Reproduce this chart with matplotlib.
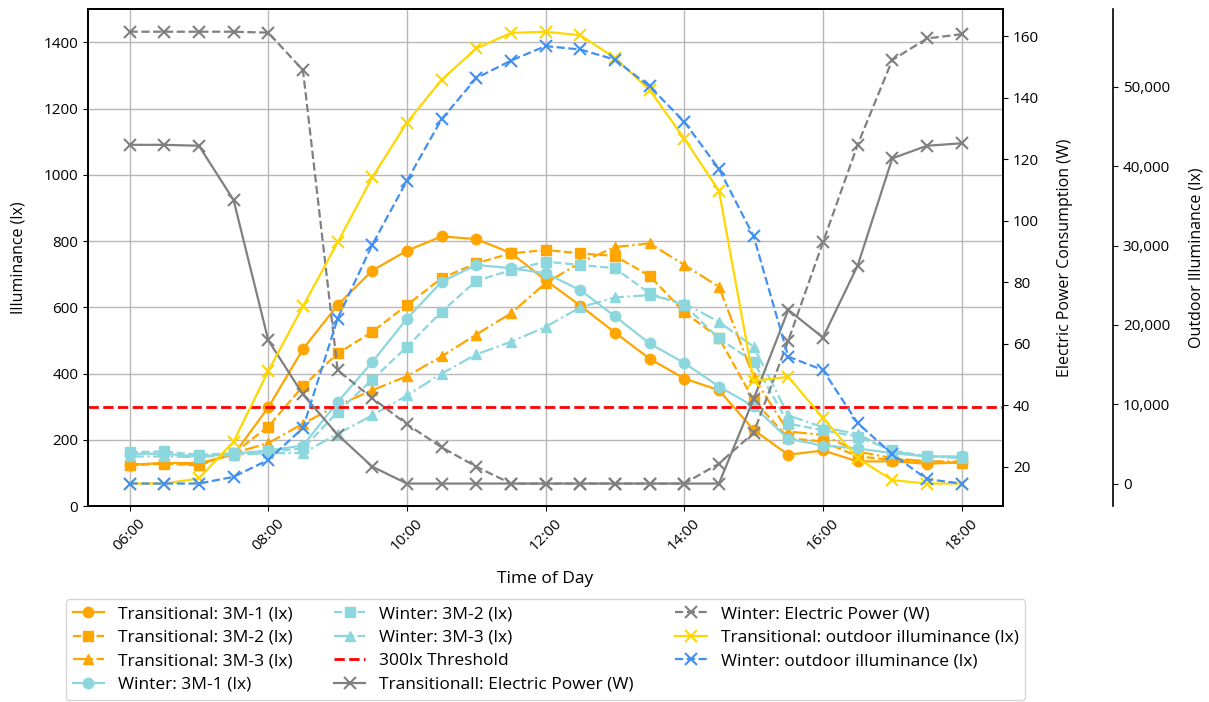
import matplotlib
matplotlib.use("Agg")
import matplotlib.pyplot as plt
import matplotlib.dates as mdates
import matplotlib.ticker as mticker
import pandas as pd

plt.rcParams["font.family"] = ["Open Sans", "DejaVu Sans"]
plt.rcParams["font.size"] = 11

# Half-hourly samples, 06:00 - 18:00
TIME_LABELS = ["06:00", "06:30", "07:00", "07:30", "08:00", "08:30", "09:00",
               "09:30", "10:00", "10:30", "11:00", "11:30", "12:00", "12:30",
               "13:00", "13:30", "14:00", "14:30", "15:00", "15:30", "16:00",
               "16:30", "17:00", "17:30", "18:00"]

# Indoor illuminance (lx)
trans_3m1 = [125, 130, 130, 155, 298, 474, 607, 711, 771, 814, 806, 764, 682,
             605, 524, 445, 385, 350, 230, 155, 168, 135, 135, 128, 132]
trans_3m2 = [123, 128, 123, 160, 240, 362, 461, 526, 607, 688, 733, 763, 773,
             763, 755, 695, 585, 508, 320, 205, 195, 150, 140, 135, 130]
trans_3m3 = [125, 130, 125, 160, 190, 249, 304, 350, 392, 452, 518, 582, 673,
             735, 782, 793, 728, 662, 389, 225, 215, 165, 145, 135, 135]
winter_3m1 = [158, 158, 150, 158, 168, 183, 314, 435, 566, 677, 728, 718, 703,
              652, 573, 491, 432, 361, 301, 203, 183, 174, 160, 150, 150]
winter_3m2 = [163, 165, 155, 160, 165, 174, 284, 382, 481, 587, 680, 712, 738,
              728, 718, 642, 607, 506, 436, 249, 229, 210, 168, 150, 148]
winter_3m3 = [150, 150, 148, 155, 160, 160, 218, 274, 334, 400, 458, 496, 541,
              600, 630, 637, 612, 556, 481, 274, 238, 218, 165, 150, 145]
THRESHOLD = 300

# Electric power consumption (W)
trans_power = [124.7, 124.7, 124.4, 106.7, 61.1, 43.5, 30.4, 20.0, 14.5, 14.5,
               14.5, 14.5, 14.5, 14.5, 14.5, 14.5, 14.5, 14.5, 42.0, 71.0,
               62.0, 85.4, 120.3, 124.4, 125.2]
winter_power = [161.5, 161.5, 161.5, 161.5, 161.2, 149.0, 51.4, 42.3, 33.8,
                26.3, 20.0, 14.5, 14.5, 14.5, 14.5, 14.5, 14.5, 21.0, 31.0,
                61.0, 93.0, 124.7, 152.3, 159.3, 160.7]

# Outdoor illuminance (lx)
trans_outdoor = [0, 0, 640, 5300, 14200, 22350, 30400, 38600, 45500, 50900,
                 54840, 56800, 56950, 56500, 53650, 49620, 43470, 36900, 12940,
                 13450, 8270, 3180, 430, 0, 0]
winter_outdoor = [0, 0, 0, 850, 2980, 7000, 20790, 30110, 38170, 45930, 51100,
                  53310, 55140, 54710, 53430, 50050, 45600, 39660, 31170, 15990,
                  14300, 7630, 3700, 560, 0]

ORANGE = "#FFA500"
CYAN = "#8CD7DE"
GRAY = "#808080"
GOLD = "#FFD700"
BLUE = "#4290F0"

times = pd.to_datetime(TIME_LABELS, format="%H:%M")

fig = plt.figure(figsize=(12.09, 7.02), dpi=100)
ax = fig.add_axes([0.0728, 0.279, 0.757, 0.708])
ax2 = ax.twinx()
ax3 = ax.twinx()
ax3.spines["right"].set_position(("axes", 1.12))

lw = 1.6
ms = 7.5
handles = []
handles += ax.plot(times, trans_3m1, color=ORANGE, ls="-", marker="o", lw=lw,
                   ms=ms, label="Transitional: 3M-1 (lx)")
handles += ax.plot(times, trans_3m2, color=ORANGE, ls="--", marker="s", lw=lw,
                   ms=ms, label="Transitional: 3M-2 (lx)")
handles += ax.plot(times, trans_3m3, color=ORANGE, ls="-.", marker="^", lw=lw,
                   ms=ms, label="Transitional: 3M-3 (lx)")
handles += ax.plot(times, winter_3m1, color=CYAN, ls="-", marker="o", lw=lw,
                   ms=ms, label="Winter: 3M-1 (lx)")
handles += ax.plot(times, winter_3m2, color=CYAN, ls="--", marker="s", lw=lw,
                   ms=ms, label="Winter: 3M-2 (lx)")
handles += ax.plot(times, winter_3m3, color=CYAN, ls="-.", marker="^", lw=lw,
                   ms=ms, label="Winter: 3M-3 (lx)")
handles.append(ax.axhline(THRESHOLD, color="red", ls="--", lw=2,
                          label="300lx Threshold"))

handles += ax2.plot(times, trans_power, color=GRAY, ls="-", marker="x", lw=lw,
                    ms=9, mew=1.5, label="Transitionall: Electric Power (W)")
handles += ax2.plot(times, winter_power, color=GRAY, ls="--", marker="x", lw=lw,
                    ms=9, mew=1.5, label="Winter: Electric Power (W)")

handles += ax3.plot(times, trans_outdoor, color=GOLD, ls="-", marker="x", lw=lw,
                    ms=9, mew=1.5, label="Transitional: outdoor illuminance (lx)")
handles += ax3.plot(times, winter_outdoor, color=BLUE, ls="--", marker="x",
                    lw=lw, ms=9, mew=1.5,
                    label="Winter: outdoor illuminance (lx)")

ax.set_ylim(0, 1500)
ax.set_ylabel("Illuminance (lx)", fontsize=11.5, labelpad=12)
ax.set_xlabel("Time of Day", fontsize=12.5, labelpad=12)
ax.xaxis.set_major_locator(mdates.HourLocator(byhour=range(6, 19, 2)))
ax.xaxis.set_major_formatter(mdates.DateFormatter("%H:%M"))
plt.setp(ax.get_xticklabels(), rotation=45)
ax.grid(True, color="#b8b8b8", lw=1.0)

ax2.set_ylabel("Electric Power Consumption (W)", fontsize=11.5, labelpad=13)
ax3.set_ylabel("Outdoor Illuminance (lx)", fontsize=11.5, labelpad=13)
ax3.yaxis.set_major_formatter(mticker.StrMethodFormatter("{x:,.0f}"))

for a in (ax, ax2, ax3):
    for sp in a.spines.values():
        sp.set_linewidth(1.2)

ax.legend(handles=handles, loc="upper center", bbox_to_anchor=(0.5, -0.17),
          ncol=3, fontsize=12.5, frameon=True, columnspacing=2.4,
          labelspacing=0.42, handlelength=1.8)

fig.savefig("out.png", dpi=100)
